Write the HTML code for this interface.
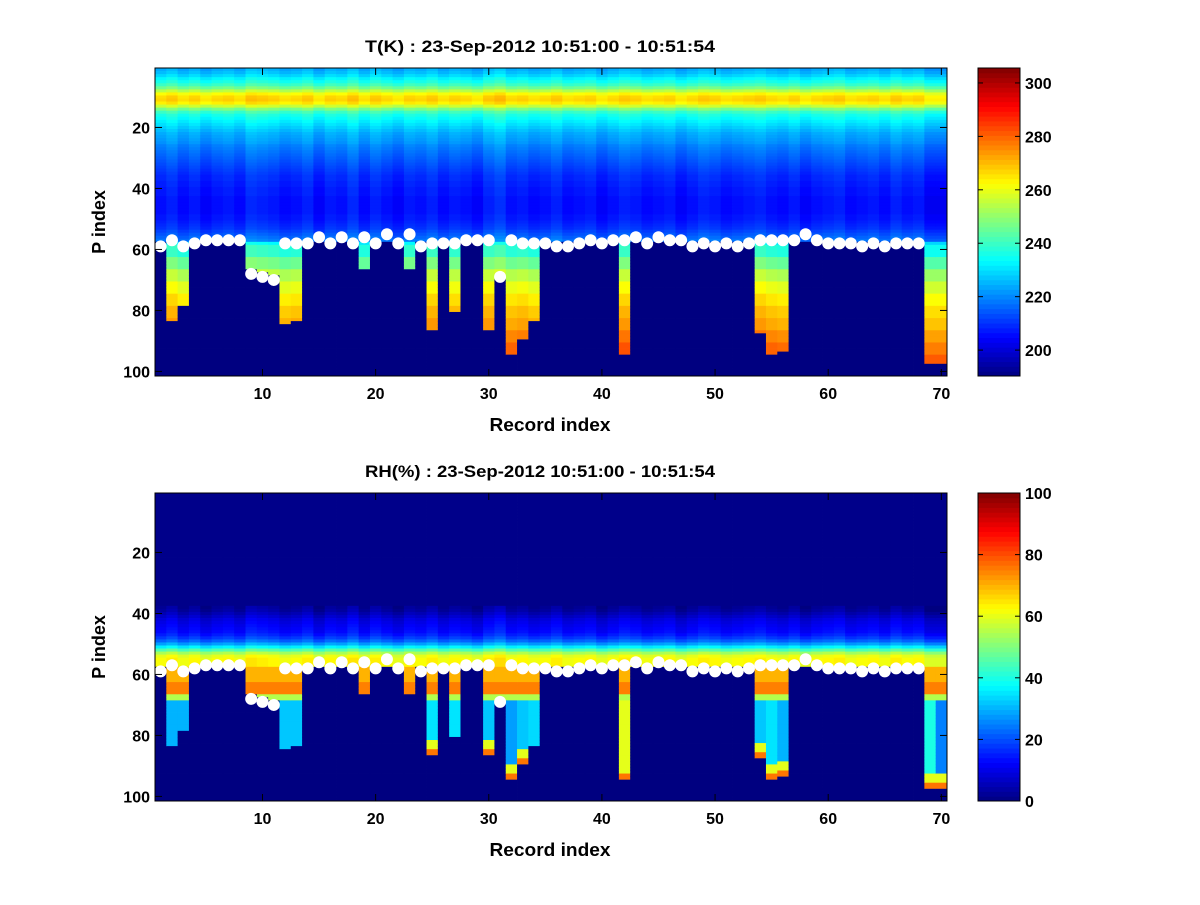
<!DOCTYPE html>
<html><head><meta charset="utf-8"><style>
body{margin:0;background:#fff;}
svg text{font-family:"Liberation Sans",sans-serif;font-weight:bold;}
</style></head><body>
<svg id="fig" width="1200" height="900" viewBox="0 0 1200 900" xmlns="http://www.w3.org/2000/svg">
<rect width="1200" height="900" fill="#fff"/>
</svg>
<script>
const surf=[59,57,59,58,57,57,57,57,68,69,70,58,58,58,56,58,56,58,56,58,55,58,55,59,58,58,58,57,57,57,69,57,58,58,58,59,59,58,57,58,57,57,56,58,56,57,57,59,58,59,58,59,58,57,57,57,57,55,57,58,58,58,59,58,59,58,58,58];
const bottom=[57,83,78,57,57,57,57,57,66,67,68,84,83,57,57,57,57,57,66,57,57,57,66,57,86,57,80,57,57,86,69,94,89,83,57,57,57,57,57,57,57,94,57,57,57,57,57,57,57,57,57,57,57,87,94,93,57,57,57,57,57,57,57,57,57,57,57,57,97,97];
const tAbove=[224,226,229,233,236,240,246,254,262,266,267,264,256,247,240,236,234,232,230,228,226,224,223,222,221,219,218,217,216,215,214,213,212,211,210,209,209,208,208,207,207,207,206,206,206,206,206,206,207,207,208,209,210,212,214,216,218];
const tBelow=[232,238,246,254,260,265,269,272,276,280,284];
const tJit=[0,2,-1,1,-2,0,1,-1,3,2,1,-1,0,2,-2,1,0,3,-1,2,0,-2,1,0,2,-1,1,0,-2,2,4,0,1,-1,0,2,-1,0,1,-2,0,2,1,-1,0,1,-2,0,2,1,-1,0,1,2,0,-1,1,-2,0,1,2,-1,0,1,-1,2,0,1,-3,-3];
const rhAbove=[1,1,1,1,1,1,1,1,1,1,1,1,1,1,1,1,1,1,1,1,1,1,1,1,1,1,1,1,1,1,1,1,1,1,1,1,1,2,3,5,7,9,10,11,12,13,15,18,22,28,36,45,54,60,62,62,62];
const rhDeep=[30,30,30,30,30,30,30,30,70,70,70,32,32,30,30,30,30,30,70,30,30,30,70,30,35,30,35,30,30,32,70,28,32,34,30,30,30,30,30,30,30,60,30,30,30,30,30,30,30,30,30,30,30,32,35,30,30,30,30,30,30,30,30,30,30,30,30,30,40,25];
const xTicks=[10,20,30,40,50,60,70];
const yTicks=[20,40,60,80,100];
const NS="http://www.w3.org/2000/svg";
const svg=document.getElementById('fig');
function el(t,a,p){const e=document.createElementNS(NS,t);for(const k in a)e.setAttribute(k,a[k]);(p||svg).appendChild(e);return e;}
function jet(v){v=Math.max(0,Math.min(1,v));const r=Math.max(0,Math.min(1,1.5-Math.abs(4*v-3)));const g=Math.max(0,Math.min(1,1.5-Math.abs(4*v-2)));const b=Math.max(0,Math.min(1,1.5-Math.abs(4*v-1)));return `rgb(${Math.round(r*255)},${Math.round(g*255)},${Math.round(b*255)})`;}
const X0=155,X1=947,NC=70,NP=101;
function xs(i){return X0+(i-0.5)*(X1-X0)/NC;}
function tval(c,p){if(p<=57)return tAbove[p-1]+tJit[c];if(p<=bottom[c])return tBelow[Math.min(10,Math.floor((p-55)/4))]+tJit[c];return 190;}
function rval(c,p){
  if(p<=57)return p<38?1:Math.min(100,rhAbove[p-1]+tJit[c]);
  if(p<=bottom[c]){
    if(bottom[c]>=85&&p>bottom[c]-2)return 76;
    if(bottom[c]>=85&&p>bottom[c]-5)return 60;
    if(p<=62)return 70;
    if(p<=66)return 75;
    if(p<=68)return 55;
    return rhDeep[c];}
  return 0;}
function panel(Y0,Y1,fn,vmin,vmax,title,cbTicks,name){
  const ys=p=>Y0+(p-0.5)*(Y1-Y0)/NP;
  const g=el('g',{});
  
  
  const cw=(X1-X0)/NC,ch=(Y1-Y0)/NP;
  for(let c=0;c<NC;c++)for(let p=1;p<=NP;p++){
    const r=el('rect',{x:(xs(c+1)-cw/2).toFixed(2),y:(ys(p)-ch/2).toFixed(2),width:(cw+0.4).toFixed(2),height:(ch+0.4).toFixed(2),fill:jet((fn(c,p)-vmin)/(vmax-vmin))},g);
    
    
  }
  for(let c=0;c<surf.length;c++){
    const d=el('circle',{cx:xs(c+1),cy:ys(surf[c]),r:6,fill:'#fff'});
    
    
  }
  const f=el('rect',{x:X0,y:Y0,width:X1-X0,height:Y1-Y0,fill:'none',stroke:'#000','stroke-width':1});
  
  
  xTicks.forEach(t=>{const x=xs(t);
    el('line',{x1:x,x2:x,y1:Y1,y2:Y1-7,stroke:'#000'});el('line',{x1:x,x2:x,y1:Y0,y2:Y0+7,stroke:'#000'});
    const tx=el('text',{x:x,y:Y1+23,'text-anchor':'middle','font-size':16});tx.textContent=t;
    
    });
  yTicks.forEach(t=>{const y=ys(t);
    el('line',{x1:X0,x2:X0+7,y1:y,y2:y,stroke:'#000'});el('line',{x1:X1,x2:X1-7,y1:y,y2:y,stroke:'#000'});
    const tx=el('text',{x:X0-5,y:y+6,'text-anchor':'end','font-size':16});tx.textContent=t;
    
    });
  const tt=el('text',{x:540,y:Y0-16,'text-anchor':'middle','font-size':17,textLength:350,lengthAdjust:'spacingAndGlyphs'});tt.textContent=title;
  
  
  const xl=el('text',{x:550,y:Y1+55,'text-anchor':'middle','font-size':18,textLength:121,lengthAdjust:'spacingAndGlyphs'});xl.textContent='Record index';
  
  
  const yl=el('text',{x:0,y:0,'text-anchor':'middle','font-size':18,transform:`translate(105,${(Y0+Y1)/2}) rotate(-90)`});yl.textContent='P index';
  
  
  const CX0=978,CX1=1020,N=64;
  const cb=el('g',{});
  
  
  for(let k=0;k<N;k++){const h=(Y1-Y0)/N;el('rect',{x:CX0,y:Y1-(k+1)*h,width:CX1-CX0,height:h+0.5,fill:jet((k+0.5)/N)},cb);}
  el('rect',{x:CX0,y:Y0,width:CX1-CX0,height:Y1-Y0,fill:'none',stroke:'#000'},cb);
  cbTicks.forEach(t=>{const y=Y1-(t-vmin)/(vmax-vmin)*(Y1-Y0);
    el('line',{x1:CX0,x2:CX0+5,y1:y,y2:y,stroke:'#000'},cb);el('line',{x1:CX1,x2:CX1-5,y1:y,y2:y,stroke:'#000'},cb);
    const tx=el('text',{x:CX1+5,y:y+6,'font-size':16},cb);tx.textContent=t;
    
    });
}
panel(68,376,tval,190.3,305.6,'T(K) : 23-Sep-2012 10:51:00 - 10:51:54',[200,220,240,260,280,300],'temperature');
panel(493,801,rval,0,100,'RH(%) : 23-Sep-2012 10:51:00 - 10:51:54',[0,20,40,60,80,100],'humidity');
</script>
</body></html>
